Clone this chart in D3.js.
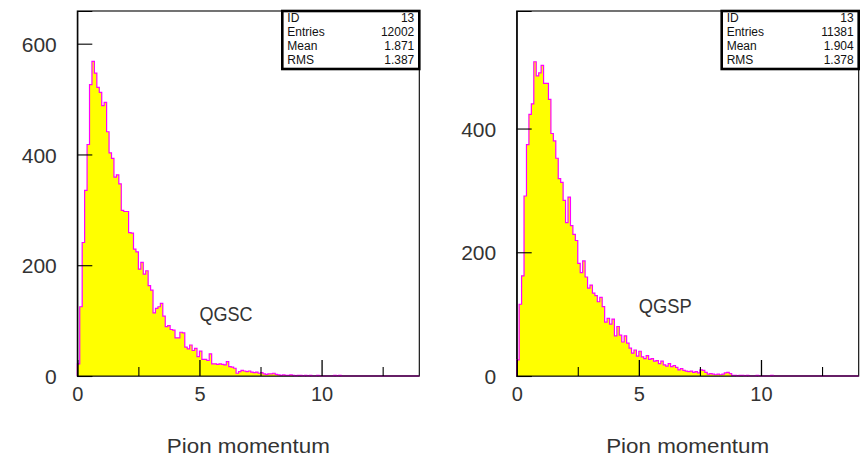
<!DOCTYPE html>
<html>
<head>
<meta charset="utf-8">
<script src="https://cdn.jsdelivr.net/npm/d3@7"></script>
<style>
  html, body { margin: 0; padding: 0; background: #fff; }
  svg { display: block; }
</style>
</head>
<body>
<svg id="chart" width="863" height="458"></svg>
<script>
// ---------------- data ----------------
const binWidth = 0.1;            // bin width in Pion momentum units
const xDomain = [0, 14];
const xTicksMajor = [0, 5, 10];
const xTicksMinor = [2.5, 7.5, 12.5];
const yTicksQGSC = [0, 200, 400, 600];
const yTicksQGSP = [0, 200, 400];
const xTitle = "Pion momentum";
const statLabels = ["ID", "Entries", "Mean", "RMS"];
const statsQGSC = ["13", "12002", "1.871", "1.387"];
const statsQGSP = ["13", "11381", "1.904", "1.378"];
const panelNames = ["QGSC", "QGSP"];

// counts per 0.1 bin, from 0 to 14 (140 bins)
const countsQGSC = [
  22,125,241,335,418,526,568,547,521,512,
  488,494,441,403,393,359,363,347,299,297,
  297,259,258,229,224,193,205,184,190,163,
  155,114,122,125,131,108,89,91,84,83,
  69,69,79,78,52,49,56,46,50,35,
  45,30,30,28,40,22,22,21,22,21,
  20,26,17,16,14,5,8,10,9,8,
  9,7,6,7,5,6,4,3,4,4,
  5,3,2,1,2,1,1,2,1,0,
  1,1,0,1,0,1,0,0,1,0,
  0,0,0,0,0,1,0,1,0,0,
  0,0,0,0,0,0,0,0,0,0,
  0,0,0,0,0,0,0,0,0,0,
  0,0,0,0,0,0,0,0,0,0
];
const countsQGSP = [
  26,116,162,291,374,423,440,508,485,490,
  502,473,473,447,392,380,352,319,313,284,
  248,289,243,229,219,182,167,186,160,142,
  147,134,130,120,127,112,87,93,84,92,
  65,80,66,55,65,53,45,37,42,32,
  40,31,28,33,27,28,24,25,20,24,
  18,16,20,15,17,14,10,12,9,8,
  7,8,6,7,5,10,9,6,3,4,
  3,2,3,2,3,5,6,4,1,1,
  0,1,1,0,1,0,0,0,1,0,
  0,0,0,0,1,0,0,0,0,0,
  0,0,0,0,0,0,0,0,0,0,
  0,0,0,0,0,0,0,0,0,0,
  0,0,0,0,0,0,0,0,0,0
];

// ---------------- layout ----------------
const svg = d3.select("#chart");
const plotTop = 11, plotBottom = 376, plotW = 342;
const fontAxis = "'Liberation Sans', Arial, sans-serif";
const textColor = "#333";

const panels = [
  { left: 77.3,  counts: countsQGSC, yMax: 659, yTicks: yTicksQGSC, name: panelNames[0], stats: statsQGSC, labelAt: [5.0, 99] },
  { left: 516.7, counts: countsQGSP, yMax: 590, yTicks: yTicksQGSP, name: panelNames[1], stats: statsQGSP, labelAt: [5.0, 102] }
];

panels.forEach(p => {
  const x = d3.scaleLinear().domain(xDomain).range([p.left, p.left + plotW]);
  const y = d3.scaleLinear().domain([0, p.yMax]).range([plotBottom, plotTop]);

  const pts = [[0, 0]].concat(p.counts.map((v, i) => [i * binWidth, v]));
  pts.push([xDomain[1], p.counts[p.counts.length - 1]]);

  const g = svg.append("g");

  // frame
  g.append("rect")
    .attr("x", x(0)).attr("y", plotTop)
    .attr("width", plotW).attr("height", plotBottom - plotTop)
    .attr("fill", "none").attr("stroke", "#000").attr("stroke-width", 1.1);

  // histogram fill
  const area = d3.area().curve(d3.curveStepAfter)
    .x(d => x(d[0])).y0(y(0)).y1(d => y(d[1]));
  g.append("path").datum(pts).attr("d", area).attr("fill", "#ffff00");

  // histogram outline
  const line = d3.line().curve(d3.curveStepAfter)
    .x(d => x(d[0])).y(d => y(d[1]));
  g.append("path").datum(pts).attr("d", line)
    .attr("fill", "none").attr("stroke", "#ff00ff").attr("stroke-width", 1.2);

  // bottom axis line over histogram
  g.append("line")
    .attr("x1", x(0)).attr("x2", x(xDomain[1]))
    .attr("y1", plotBottom).attr("y2", plotBottom)
    .attr("stroke", "#000").attr("stroke-opacity", 0.6).attr("stroke-width", 1.3);

  // y axis
  const yAxis = d3.axisLeft(y).tickValues(p.yTicks).tickSize(-15).tickPadding(20.5)
    .tickFormat(d3.format("d"));
  const ya = g.append("g").attr("transform", `translate(${x(0)},0)`).call(yAxis);
  ya.select(".domain").attr("stroke", "#000").attr("stroke-width", 1.2);
  ya.selectAll(".tick line").attr("stroke", "#000").attr("stroke-width", 1.1);
  ya.selectAll(".tick text").attr("font-family", fontAxis).attr("font-size", 21)
    .attr("fill", textColor).attr("dy", "0.36em");

  // x axis major
  const xAxis = d3.axisBottom(x).tickValues(xTicksMajor).tickSize(-16).tickPadding(10.8)
    .tickFormat(d3.format("d"));
  const xa = g.append("g").attr("transform", `translate(0,${plotBottom})`).call(xAxis);
  xa.select(".domain").remove();
  xa.selectAll(".tick line").attr("stroke", "#000").attr("stroke-width", 1.3);
  xa.selectAll(".tick text").attr("font-family", fontAxis).attr("font-size", 20)
    .attr("fill", textColor);

  // x axis minor
  const xAxisMinor = d3.axisBottom(x).tickValues(xTicksMinor).tickSize(-9).tickFormat("");
  const xm = g.append("g").attr("transform", `translate(0,${plotBottom})`).call(xAxisMinor);
  xm.select(".domain").remove();
  xm.selectAll(".tick line").attr("stroke", "#000").attr("stroke-width", 1.1);

  // x title
  g.append("text")
    .attr("x", x(0) + 171).attr("y", 452.7)
    .attr("text-anchor", "middle")
    .attr("font-family", fontAxis).attr("font-size", 21).attr("fill", textColor)
    .attr("textLength", 163).attr("lengthAdjust", "spacingAndGlyphs")
    .text(xTitle);

  // panel label
  g.append("text")
    .attr("x", x(p.labelAt[0])).attr("y", y(p.labelAt[1]))
    .attr("font-family", fontAxis).attr("font-size", 21).attr("fill", textColor)
    .attr("textLength", 53).attr("lengthAdjust", "spacingAndGlyphs")
    .text(p.name);

  // stats box
  const bx = x(xDomain[1]) - 137, by = plotTop, bw = 137, bh = 58;
  g.append("rect").attr("x", bx).attr("y", by).attr("width", bw).attr("height", bh)
    .attr("fill", "#fff").attr("stroke", "#000").attr("stroke-width", 2.6);
  const statFont = "'Liberation Sans Narrow', 'Liberation Sans', Arial, sans-serif";
  statLabels.forEach((lab, i) => {
    const base = by + 10.7 + i * 14.1;
    g.append("text").attr("x", bx + 5).attr("y", base)
      .attr("font-family", statFont).attr("font-size", 12).attr("fill", "#111").text(lab);
    g.append("text").attr("x", bx + bw - 5).attr("y", base).attr("text-anchor", "end")
      .attr("font-family", statFont).attr("font-size", 12).attr("fill", "#111").text(p.stats[i]);
  });
});
</script>
</body>
</html>
